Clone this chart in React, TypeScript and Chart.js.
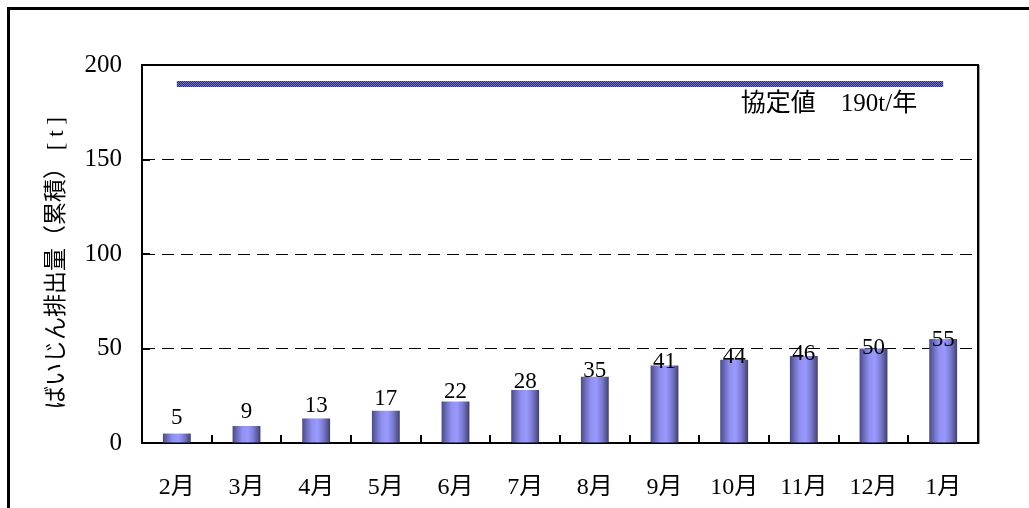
import React, { useEffect, useRef } from 'react';
import { Chart, registerables } from 'chart.js';

Chart.register(...registerables);

// ---- data ----
const months = ['2月', '3月', '4月', '5月', '6月', '7月', '8月', '9月', '10月', '11月', '12月', '1月'];
const cumulativeEmissions = [5, 9, 13, 17, 22, 28, 35, 41, 44, 46, 50, 55];
const agreementLimit = [190, 190, 190, 190, 190, 190, 190, 190, 190, 190, 190, 190];
const agreementText = '協定値　190t/年';
const yAxisTitle = 'ばいじん排出量（累積） [ t ]';
const yMin = 0;
const yMax = 200;
const yStep = 50;

const BAR_PCT = 0.4;
const SERIF = "'Liberation Serif', 'Noto Sans CJK JP'";

function barGradient(ctx: CanvasRenderingContext2D, cx: number, w: number) {
  const g = ctx.createLinearGradient(cx - w / 2, 0, cx + w / 2, 0);
  g.addColorStop(0, '#4a4a82');
  g.addColorStop(0.15, '#6a6ab8');
  g.addColorStop(0.35, '#9090f2');
  g.addColorStop(0.55, '#9a9aff');
  g.addColorStop(0.75, '#7c7cd4');
  g.addColorStop(0.9, '#5a5a98');
  g.addColorStop(1, '#3e3e68');
  return g;
}

const decorPlugin = {
  id: 'decor',
  beforeDraw(chart: any) {
    const { ctx, width, height } = chart;
    ctx.save();
    ctx.fillStyle = '#ffffff';
    ctx.fillRect(0, 0, width, height);
    ctx.restore();
  },
  beforeDatasetsDraw(chart: any) {
    // give every bar its own horizontal cylinder-like gradient
    chart.data.datasets.forEach((ds: any, di: number) => {
      if (ds.type !== 'bar') return;
      const meta = chart.getDatasetMeta(di);
      meta.data.forEach((el: any) => {
        if (!isFinite(el.x) || !isFinite(el.width) || el.width <= 0) return;
        el.options = Object.assign(Object.create(Object.getPrototypeOf(el.options)), el.options, {
          backgroundColor: barGradient(chart.ctx, el.x, el.width),
        });
      });
    });
  },
  afterDraw(chart: any) {
    const { ctx, chartArea: a, scales } = chart;
    const xs = scales.x;
    const ys = scales.y;
    ctx.save();

    // plot frame (top / right)
    ctx.fillStyle = '#000';
    ctx.fillRect(a.left - 1, a.top - 1, a.right - a.left + 2, 2);
    ctx.fillRect(a.right - 1, a.top - 1, 2, a.bottom - a.top + 2);
    ctx.fillStyle = '#9a9a9a';
    ctx.fillRect(a.right + 1, a.top, 1, a.bottom - a.top + 1);

    // inner tick marks
    ctx.strokeStyle = '#000';
    ctx.lineWidth = 2;
    ctx.beginPath();
    ys.ticks.forEach((t: any) => {
      const py = Math.round(ys.getPixelForValue(t.value));
      ctx.moveTo(a.left, py);
      ctx.lineTo(a.left + 8, py);
    });
    for (let i = 1; i < months.length; i++) {
      const px = Math.round(xs.getPixelForValue(i - 0.5));
      ctx.moveTo(px, a.bottom);
      ctx.lineTo(px, a.bottom - 8);
    }
    ctx.stroke();

    // value labels
    ctx.fillStyle = '#000';
    ctx.font = `23px ${SERIF}`;
    ctx.textAlign = 'center';
    ctx.textBaseline = 'alphabetic';
    cumulativeEmissions.forEach((v, i) => {
      const px = xs.getPixelForValue(i);
      const py = ys.getPixelForValue(v * 0.825) - 11;
      ctx.fillText(String(v), px, py);
    });

    // agreement annotation
    const lastX = xs.getPixelForValue(months.length - 1);
    const lineY = ys.getPixelForValue(agreementLimit[agreementLimit.length - 1]);
    ctx.font = `25px ${SERIF}`;
    ctx.textAlign = 'right';
    ctx.textBaseline = 'middle';
    ctx.fillText(agreementText, lastX - 26, lineY + 21);

    // y-axis title
    ctx.save();
    ctx.translate(57, (a.top + a.bottom) / 2 + 9);
    ctx.rotate(-Math.PI / 2);
    ctx.font = `23px ${SERIF}`;
    ctx.textAlign = 'center';
    ctx.textBaseline = 'middle';
    ctx.fillText(yAxisTitle, 0, 0);
    ctx.restore();

    // outer frame (extends past the picture)
    ctx.fillStyle = '#000';
    ctx.fillRect(7, 7, chart.width, 3);
    ctx.fillRect(7, 7, 3, chart.height);

    ctx.restore();
  },
};

export default function App() {
  const ref = useRef<HTMLCanvasElement | null>(null);

  useEffect(() => {
    const canvas = ref.current;
    if (!canvas) return;
    const c2d = canvas.getContext('2d')!;

    const pc = document.createElement('canvas');
    pc.width = 2;
    pc.height = 2;
    const pctx = pc.getContext('2d')!;
    pctx.fillStyle = '#222290';
    pctx.fillRect(0, 0, 2, 2);
    pctx.fillStyle = '#7a7ac8';
    pctx.fillRect(0, 0, 1, 1);
    pctx.fillRect(1, 1, 1, 1);
    const pattern = c2d.createPattern(pc, 'repeat') || '#3a3aa8';

    const chart = new Chart(canvas, {
      type: 'bar',
      data: {
        labels: months,
        datasets: [
          {
            type: 'line',
            label: '協定値',
            data: agreementLimit,
            borderColor: pattern as any,
            borderWidth: 6,
            borderCapStyle: 'butt',
            pointRadius: 0,
            fill: false,
            tension: 0,
          } as any,
          {
            type: 'bar',
            label: 'ばいじん排出量',
            data: cumulativeEmissions,
            barPercentage: BAR_PCT,
            categoryPercentage: 1,
            borderWidth: 0,
            backgroundColor: '#8888ee',
          } as any,
        ],
      },
      options: {
        responsive: false,
        animation: false,
        devicePixelRatio: 1,
        layout: { padding: { left: 0, top: 65, right: 51, bottom: 0 } },
        plugins: {
          legend: { display: false },
          tooltip: { enabled: false },
          title: { display: false },
        },
        scales: {
          x: {
            offset: true,
            grid: { display: false, drawTicks: false },
            border: { display: true, color: '#000', width: 2 },
            ticks: {
              color: '#000',
              font: { family: SERIF, size: 24 },
              padding: 30,
              maxRotation: 0,
              autoSkip: false,
            },
            afterFit: (s: any) => {
              s.height = 65;
            },
          },
          y: {
            min: yMin,
            max: yMax,
            grid: {
              drawTicks: false,
              lineWidth: 1,
              color: (c: any) =>
                c.tick && (c.tick.value === yMin || c.tick.value === yMax) ? 'rgba(0,0,0,0)' : '#000',
            },
            border: { display: true, color: '#000', width: 2, dash: [12, 7] },
            ticks: {
              stepSize: yStep,
              color: '#000',
              font: { family: SERIF, size: 25 },
              padding: 20,
            },
            title: { display: false },
            afterFit: (s: any) => {
              s.width = 142;
            },
          },
        },
      },
      plugins: [decorPlugin],
    });

    return () => chart.destroy();
  }, []);

  return (
    <div style={{ position: 'absolute', left: 0, top: 0, width: 1029, height: 508, background: '#fff' }}>
      <canvas ref={ref} width={1029} height={508} style={{ width: 1029, height: 508, display: 'block' }} />
    </div>
  );
}
